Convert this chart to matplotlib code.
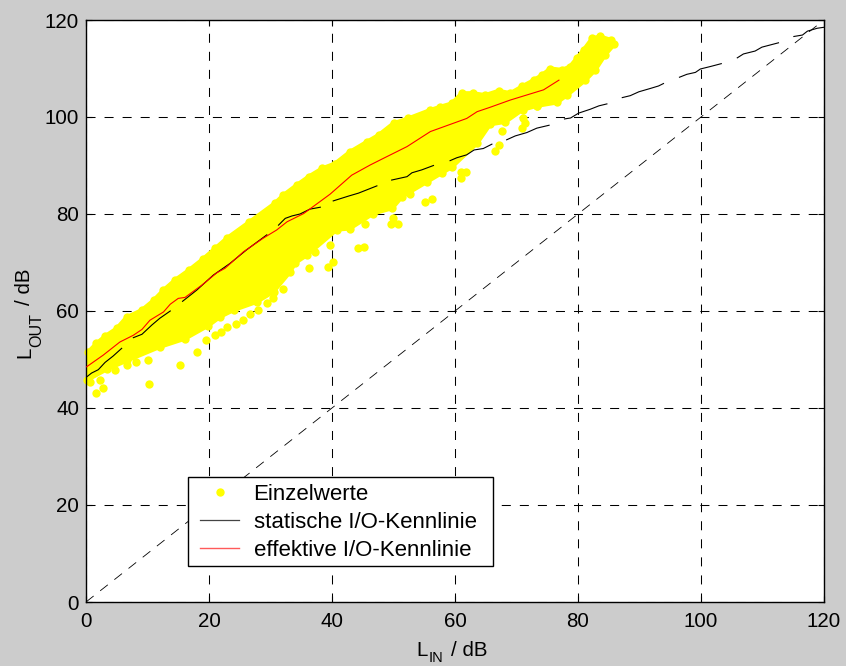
import numpy as np
import matplotlib
matplotlib.use("Agg")
import matplotlib.pyplot as plt
from matplotlib.lines import Line2D
from matplotlib.patches import Rectangle

plt.rcParams['font.family'] = ['Liberation Sans', 'DejaVu Sans']
plt.rcParams['lines.scale_dashes'] = False

nan = float('nan')

# rand der punktwolke (mittelpunkte der randpunkte)
upper_x = [0.4, 1.7, 3.1, 5, 6.6, 9.1, 11, 12.6, 14.5, 16.7, 19.1, 21, 22.9, 26.5, 30.7, 32.1, 34.3, 36.2, 38.4, 40.5, 42.9, 45.7, 47.6, 50, 52.4, 55.9, 57.6, 59.5, 61.1, 62.9, 64.9, 67.1, 69, 70.9, 72.8, 74.2, 75.5, 77.4, 78.7, 79.8, 80.9, 82.3, 83.6, 85.3, 85.9]
upper_y = [51.6, 53.3, 54.8, 56.4, 58.7, 60.2, 62.2, 64.3, 66.4, 68.4, 70.8, 72.9, 75, 78.3, 82.2, 83.9, 86, 87.7, 89.4, 90.4, 92.8, 94.9, 96.3, 98.7, 99.7, 101.4, 102.1, 102.8, 104.9, 104.9, 104.5, 105.4, 104.9, 106.3, 107.6, 108.7, 110, 109.7, 110.4, 112.1, 113.8, 116.2, 116.6, 115.9, 115]
lower_x = [0.1, 3.4, 6.7, 12, 16.1, 19.9, 21.8, 24, 27.8, 30.5, 33.2, 34, 35.9, 40.8, 42.9, 46.7, 49.8, 51.4, 55.4, 59.5, 63.6, 65.7, 68.2, 71, 73.3, 76.6, 78.2, 81.2, 82.8, 84.4]
lower_y = [45.7, 48, 49.8, 52.6, 54.3, 57, 58.8, 60.2, 61.9, 64, 68.1, 69.9, 71.5, 76.8, 77, 80.1, 81.2, 83.6, 86.6, 89.7, 94.6, 98.5, 99, 101.5, 102.3, 103, 104.5, 107.6, 109.7, 112.8]

# einzelne punkte ausserhalb der wolke
single_x = [1.7, 2.8, 10.3, 15.3, 18.1, 19.5, 21, 21.9, 23, 24.4, 25.6, 26.7, 28, 29.4, 30.4, 32.1, 8.1, 10, 6.7, 4.7, 2.3, 0.7, 17.9,
            44.3, 45.2, 39.4, 40.2, 36.3, 39.7, 37.3, 49.6, 50.7, 49.9, 45.4, 55.2, 56.2, 52.7, 61, 61, 61.8, 57.9,
            66.5, 67.1, 67.6, 70.9, 71.4, 71, 73.3]
single_y = [43.1, 44.2, 44.9, 48.8, 51.5, 54, 55, 55.7, 56.6, 57.4, 58.1, 59.3, 60.3, 61.6, 62.7, 64.5, 49.4, 50, 48.8, 47.8, 45.7, 45.4, 57.1,
            72.9, 73.2, 69.1, 70.1, 68.8, 73.6, 72.2, 77.9, 77.9, 79.2, 77.9, 82.5, 83.1, 84.1, 87.4, 88.7, 88.7, 88.4,
            93, 94.2, 97.1, 97.8, 98.7, 99.7, 102.3]

# statische kennlinie, nan = luecke
static_x = [0.1, 0.9, 2.0, 3.1, 4.4, 5.8, nan,
            7.7, 9.1, 10.7, 12, 13.7, nan,
            15.7, 18, 20.7, 23.4, 26.1, 29.4, nan,
            31.3, 32.4, 33.5, 34.8, 36.4, 38.1, nan,
            40.2, 42.7, 44.3, 47.3, nan,
            49.7, 52.2, 53, 54.6, 56.5, nan,
            59.2, 60.3, 61.9, 63.1, 64.6, 66, nan,
            68.4, 69.8, 71.7, 73.3, 75.3, nan,
            77.8, 78.8, 80.1, 82, 83.4, 84.7, nan,
            87.2, 88.5, 89.9, 91.8, 93.1, 93.9, nan,
            96.5, 97.7, 99.1, 99.9, 101.5, 103.3, nan,
            105.9, 106.9, 108.8, 109.9, 112.6, nan,
            115.1, 116.5, 117.3, 118.9, 120]
static_y = [46.4, 47.2, 47.9, 49.4, 50.7, 52.3, nan,
            54.5, 55.2, 57.1, 58.5, 60, nan,
            62, 64.3, 67.4, 69.8, 72.6, 75.7, nan,
            77.7, 79.1, 79.6, 80, 81, 81.4, nan,
            82.7, 83.7, 84.3, 85.8, nan,
            87, 87.7, 88.5, 89.1, 90, nan,
            91, 91.6, 92.2, 93.2, 93.5, 94.4, nan,
            95.3, 96.1, 96.8, 97.7, 98.3, nan,
            99.6, 99.8, 100.8, 101.6, 102.3, 102.7, nan,
            104, 104.4, 105.2, 105.9, 106.4, 106.9, nan,
            108.2, 108.8, 109.2, 109.9, 110.4, 111, nan,
            112.2, 113, 113.6, 114.4, 115.3, nan,
            116.6, 116.9, 117.7, 118.3, 118.5]

# effektive kennlinie
eff_x = [0.1, 2.8, 5.5, 7.7, 9.1, 10.4, 12.6, 13.7, 15, 16.1, 18.8, 21.3, 22.6, 25.6, 28.8, 31, 32.7, 35.4, 39.7, 43.2, 46.2, 48.4, 52.2, 56, 61.9, 63.6, 65.7, 69, 74.4, 76.9]
eff_y = [48.5, 50.9, 53.6, 55, 56.2, 58.1, 59.8, 61.4, 62.6, 62.8, 65.3, 67.9, 68.8, 72.2, 75, 76.7, 78.4, 80.1, 84.1, 88, 90.1, 91.5, 93.9, 97, 99.7, 101.1, 102, 103.5, 105.6, 107.6]

diag = [0, 120]
ticks = [0, 20, 40, 60, 80, 100, 120]

fig = plt.figure(figsize=(8.46, 6.66), dpi=100, facecolor='#cccccc')
ax = fig.add_axes([86/846, 1-602/666, 738/846, 582/666])
ax.set_facecolor('white')

ax.fill(upper_x + lower_x[::-1], upper_y + lower_y[::-1], color='#ffff00', lw=3, joinstyle='round', zorder=2)
ax.scatter(upper_x + lower_x + single_x, upper_y + lower_y + single_y, s=36, color='#ffff00', linewidths=0, zorder=2, clip_on=False)

ax.plot(diag, diag, color='black', lw=0.6, dashes=(7, 6), zorder=3)
ax.plot(static_x, static_y, color='black', lw=0.8, zorder=4)
ax.plot(eff_x, eff_y, color='red', lw=0.8, zorder=5)

ax.set_xlim(0, 120)
ax.set_ylim(0, 120)
ax.set_xticks(ticks)
ax.set_yticks(ticks)
ax.grid(True, color='black', lw=0.75, linestyle=(0, (6.5, 6.5)))
ax.set_axisbelow(True)
ax.tick_params(which='both', direction='in', top=True, right=True, length=4, width=0.8, labelsize=14.8, pad=5)
ax.tick_params(axis='x', pad=7)
for s in ax.spines.values():
    s.set_linewidth(1.0)

# achsenbeschriftung
def label(x, y, txt, size=14.8, rot=0):
    fig.text(x/846, 1-y/666, txt, fontsize=size, rotation=rot, rotation_mode='anchor', ha='left', va='baseline')

label(416, 656, 'L')
label(429, 662.5, 'IN', size=10.5)
label(451, 656, '/ dB')
label(30, 358, 'L', rot=90)
label(41, 347, 'OUT', size=11.6, rot=90)
label(30, 305, '/ dB', rot=90)

# legende, rahmen extra
ax.add_patch(Rectangle((188/846, 1-566/666), 305/846, 89/666, transform=fig.transFigure, clip_on=False,
                       facecolor='white', edgecolor='black', lw=1.0, zorder=6))
handles = [
    Line2D([], [], ls='none', marker='o', ms=5, color='#ffff00'),
    Line2D([], [], color='#444444', lw=0.9),
    Line2D([], [], color='#ff5a5a', lw=1.0),
]
labels = ['Einzelwerte', 'statische I/O-Kennlinie', 'effektive I/O-Kennlinie']
leg = ax.legend(handles, labels, loc='lower left', bbox_to_anchor=(200/846, 1-560.5/666), bbox_transform=fig.transFigure,
                fontsize=16, frameon=False, borderaxespad=0, borderpad=0,
                handlelength=1.77, handletextpad=0.64, labelspacing=0.3)
leg.set_zorder(7)

fig.savefig('out.png', dpi=100, facecolor=fig.get_facecolor())
